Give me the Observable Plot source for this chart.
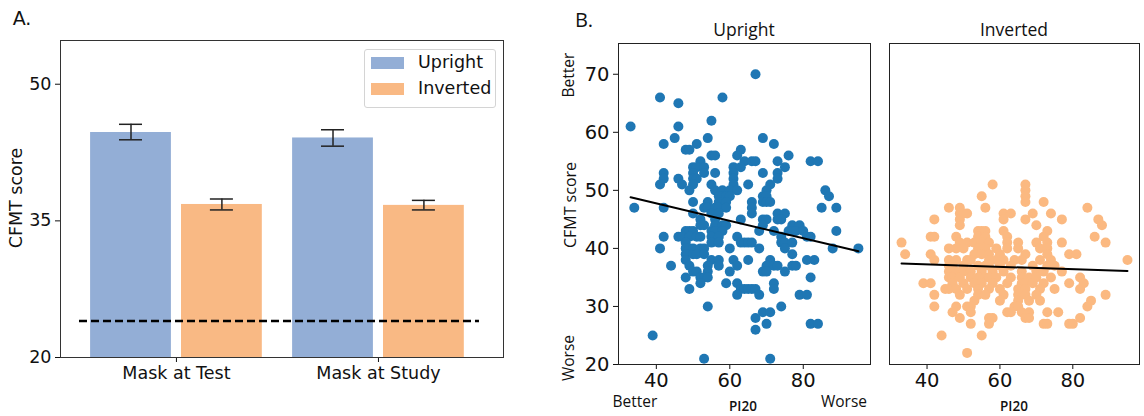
<!DOCTYPE html>
<html><head><meta charset="utf-8">
<script src="https://cdn.jsdelivr.net/npm/d3@7"></script>
<script src="https://cdn.jsdelivr.net/npm/@observablehq/plot@0.6"></script>
<style>
body{margin:0;background:#fff;}
#wrap{position:relative;width:1144px;height:416px;overflow:hidden;font-family:"DejaVu Sans",sans-serif;color:#111;}
#wrap svg{position:absolute;top:0;}
.abs{position:absolute;white-space:nowrap;line-height:1;}
.rot{transform:translate(-50%,-50%) rotate(-90deg);}
.ctr{transform:translate(-50%,-50%);}
.ui{font-family:"Open Sans",sans-serif;}
</style></head><body><div id="wrap"></div>
<script>
// ---- Panel A data ----
const conditions = ["Mask at Test", "Mask at Study"];
const groups = ["Upright", "Inverted"];
const meanUpright = [44.7, 44.1];
const loUpright = [43.9, 43.2];
const hiUpright = [45.6, 45.0];
const meanInverted = [36.8, 36.7];
const loInverted = [36.2, 36.2];
const hiInverted = [37.4, 37.25];
const chanceLevel = 24;
const yTicksA = [20, 35, 50];
const barColors = ["#93aed6", "#f9b984"];

// ---- Panel B data: rows of [CFMT score, [PI20 values...]] ----
const uprightRows = [
  [70,[67]],[66,[41,58]],[65,[46]],[62,[55]],[61,[33,46]],[59,[45,54,69]],[58,[42,51,72]],
  [57,[48,49,63]],[56,[55,56,62,76]],[55,[52,64,66,67,73,82,84]],[54,[50,51,53,61,63,75]],
  [53,[42,50,53,56,61,69,73]],[52,[42,46,50,51,61,73]],[51,[41,47,50,55,61,65,71]],
  [50,[49,56,58,60,62,70,86]],[49,[57,58,59,60,69,70,87]],[48,[50,54,57,58,59,66,69,70,71]],
  [47,[34,42,53,54,56,57,59,66,85,89]],[46,[50,55,57,66,73,75]],[45,[52,56,63,69,70,73,74]],
  [44,[52,53,56,58,59,69,77,79]],[43,[48,49,50,55,56,58,68,72,76,77,78,80,89]],
  [42,[42,46,47,49,51,52,55,57,62,74,81,82]],[41,[48,55,57,63,64,65,66,74,75,77]],
  [40,[41,48,49,50,52,53,60,68,75,88,95]],[39,[48,50,51,53,77]],[38,[48,55,57,61,65,71,81,83]],
  [37,[44,49,54,57,62,70,72,73,77,78]],[36,[50,51,54,60,69,70,75]],[35,[48,52,53,54,82]],
  [34,[52,59,62,72]],[33,[49,63,64,65,66,67,72]],[32,[62,68,79,81]],[30,[54,74]],
  [29,[69,71]],[28,[67]],[27,[70,82,84]],[26,[67]],[25,[39]],[21,[53,71]]
];
const invertedRows = [
  [51,[58,67]],[50,[67]],[49,[55,67]],[48,[67,72]],[47,[46,49,56,84]],
  [46,[49,50,51,61,63,69,74]],[45,[42,49,61,67,77,87]],[44,[49,70,88]],[43,[54,55,56,61,73]],
  [42,[41,42,48,54,56,62,72,86]],[41,[33,49,51,53,55,57,62,65,70,73,77,89]],
  [40,[46,48,50,54,56,59,62,65,71,73]],[39,[34,41,53,55,57,60,67,73,79,81]],
  [38,[42,46,48,51,52,57,59,61,64,66,71,74,95]],[37,[46,47,50,54,56,57,60,63,69,73,75]],
  [36,[46,48,50,52,55,58,61,66,70,72,77]],[35,[46,47,49,52,54,56,57,59,63,66,68,70,74,82]],
  [34,[39,41,47,50,53,55,58,62,66,67,69,72,79,83]],[33,[45,46,48,51,54,57,60,65,67,71,75,82]],
  [32,[42,49,54,56,61,65,67,70,89]],[31,[53,60,65,68,71,85]],[30,[42,48,51,52,64,65,84]],
  [29,[47,52,62,63,66,68,73,76]],[28,[49,57,58,67,68,82]],[27,[52,57,72,73,79,80]],
  [25,[44,55]],[22,[51]]
];
const fitX = [33, 95];
const fitUprightY = [48.8, 39.5];
const fitInvertedY = [37.4, 36.1];
const xTicksB = [40, 60, 80];
const yTicksB = [20, 30, 40, 50, 60, 70];
const dotColors = {Upright: "#1f77b4", Inverted: "#fbb981"};

// ---- build tables ----
const bars = conditions.flatMap((c, i) => [
  {ci: i, g: "Upright", off: -0.225, mean: meanUpright[i], lo: loUpright[i], hi: hiUpright[i]},
  {ci: i, g: "Inverted", off: 0.225, mean: meanInverted[i], lo: loInverted[i], hi: hiInverted[i]}
]);
const toPoints = rows => rows.flatMap(([y, xs]) => xs.map(x => ({x, y})));
const upPts = toPoints(uprightRows);
const invPts = toPoints(invertedRows);
const fitUp = fitX.map((x, i) => ({x, y: fitUprightY[i]}));
const fitInv = fitX.map((x, i) => ({x, y: fitInvertedY[i]}));

const wrap = document.getElementById("wrap");
const halfBar = 0.2, cap = 0.057;

const pA = Plot.plot({
  width: 540, height: 416, marginLeft: 60, marginRight: 37, marginTop: 40, marginBottom: 59,
  style: {fontFamily: "DejaVu Sans", fontSize: "17.5px", color: "#111", background: "transparent"},
  x: {domain: [-0.574, 1.619], ticks: [0, 1], tickFormat: i => conditions[i], tickSize: 5, label: null},
  y: {domain: [20, 54.8], ticks: yTicksA, tickSize: 5, label: null},
  color: {domain: groups, range: barColors},
  marks: [
    Plot.rectY(bars, {x1: d => d.ci + d.off - halfBar, x2: d => d.ci + d.off + halfBar, y1: 20, y2: "mean", fill: "g"}),
    Plot.ruleY([chanceLevel], {x1: -0.48, x2: 1.5, stroke: "#000", strokeWidth: 2.5, strokeDasharray: "8,4"}),
    Plot.ruleX(bars, {x: d => d.ci + d.off, y1: "lo", y2: "hi", stroke: "#222", strokeWidth: 1.5}),
    Plot.ruleY(bars, {y: "lo", x1: d => d.ci + d.off - cap, x2: d => d.ci + d.off + cap, stroke: "#222", strokeWidth: 1.5}),
    Plot.ruleY(bars, {y: "hi", x1: d => d.ci + d.off - cap, x2: d => d.ci + d.off + cap, stroke: "#222", strokeWidth: 1.5}),
    Plot.frame({stroke: "#333"})
  ]
});
pA.style.left = "0px";
wrap.appendChild(pA);

function scatter(pts, fit, color, showY, w, ml, mr) {
  return Plot.plot({
    width: w, height: 416, marginLeft: ml, marginRight: mr, marginTop: 43, marginBottom: 52,
    style: {fontFamily: "DejaVu Sans", fontSize: "19.5px", color: "#111", background: "transparent"},
    x: {domain: [29.7, 98.3], ticks: xTicksB, tickSize: 5, label: null},
    y: {domain: [20, 75.3], ticks: yTicksB, tickSize: 5, label: null, axis: showY ? "left" : null},
    marks: [
      Plot.dot(pts, {x: "x", y: "y", r: 5, fill: color, stroke: "none"}),
      Plot.line(fit, {x: "x", y: "y", stroke: "#000", strokeWidth: 2}),
      Plot.frame({stroke: "#222"})
    ]
  });
}
const pU = scatter(upPts, fitUp, dotColors.Upright, true, 340, 78, 10);
pU.style.left = "540px";
wrap.appendChild(pU);
const pI = scatter(invPts, fitInv, dotColors.Inverted, false, 264, 9, 5);
pI.style.left = "880px";
wrap.appendChild(pI);

// ---- text & legend ----
function label(text, x, y, cls, css) {
  const d = document.createElement("div");
  d.className = "abs " + cls;
  d.textContent = text;
  d.style.left = x + "px"; d.style.top = y + "px";
  Object.assign(d.style, css || {});
  wrap.appendChild(d);
}
label("A.", 22, 18, "ctr", {fontSize: "19px"});
label("CFMT score", 17, 198, "rot", {fontSize: "17.5px"});
label("B.", 584, 20, "ctr ui", {fontSize: "20px"});
label("Upright", 744, 30, "ctr ui", {fontSize: "17.5px"});
label("Inverted", 1014, 30, "ctr ui", {fontSize: "17.5px"});
label("CFMT score", 570, 205, "rot ui", {fontSize: "16px"});
label("Better", 569, 75, "rot ui", {fontSize: "15.5px"});
label("Worse", 569, 358, "rot ui", {fontSize: "15.5px"});
label("Better", 635, 402, "ctr ui", {fontSize: "15.5px"});
label("PI20", 743, 407, "ctr ui", {fontSize: "13.5px", fontWeight: "600"});
label("Worse", 844, 402, "ctr ui", {fontSize: "15.5px"});
label("PI20", 1014, 407, "ctr ui", {fontSize: "13.5px", fontWeight: "600"});

const lg = document.createElement("div");
lg.className = "abs";
Object.assign(lg.style, {left: "364px", top: "49px", width: "130px", height: "57px",
  border: "1px solid #d4d4d4", borderRadius: "3px", background: "rgba(255,255,255,0.8)"});
wrap.appendChild(lg);
groups.forEach((g, i) => {
  const sw = document.createElement("div");
  sw.className = "abs";
  Object.assign(sw.style, {left: "371px", top: (57 + i * 26) + "px", width: "33px", height: "12px", background: barColors[i]});
  wrap.appendChild(sw);
  label(g, 418, 63 + i * 26, "", {fontSize: "17.5px", transform: "translateY(-50%)"});
});
</script></body></html>
